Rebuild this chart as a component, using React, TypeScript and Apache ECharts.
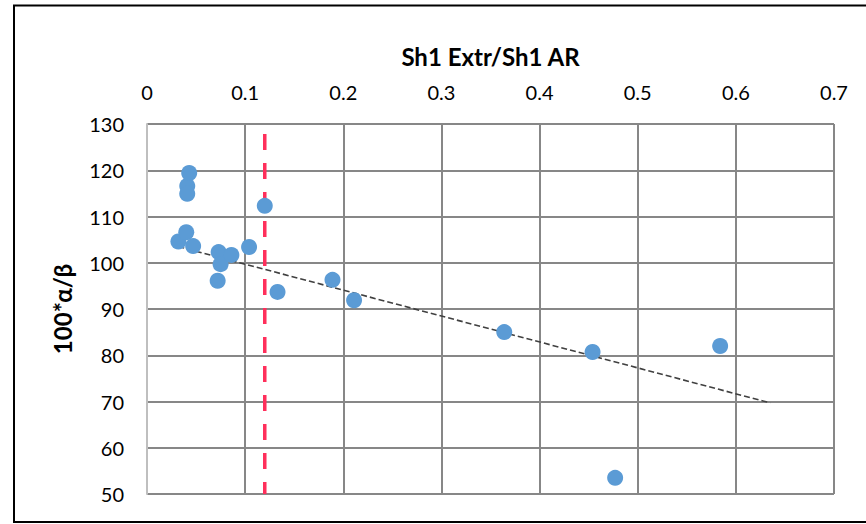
import React, { useEffect, useRef } from "react";
import * as echarts from "echarts";

const xValues = [0.032, 0.040, 0.041, 0.041, 0.043, 0.047, 0.073, 0.075, 0.072, 0.086, 0.104, 0.120, 0.133, 0.189, 0.211, 0.364, 0.454, 0.584, 0.477];
const yValues = [104.6, 106.6, 116.6, 114.9, 119.4, 103.6, 102.3, 99.7, 96.1, 101.7, 103.4, 112.3, 93.7, 96.3, 91.9, 85.0, 80.7, 82.0, 53.5];
const trendX = [0.032, 0.635];
const trendY = [103.5, 69.7];
const thresholdX = 0.12;
const yRange = [50, 130];
const xTitle = "Sh1 Extr/Sh1 AR";
const yTitle = "100*α/β";

const FONT = 'Lato, "DejaVu Sans", sans-serif';

export default function App() {
  const ref = useRef<HTMLDivElement>(null);
  useEffect(() => {
    document.body.style.margin = "0";
    const chart = echarts.init(ref.current!, null, { renderer: "svg" });
    chart.setOption({
      animation: false,
      backgroundColor: "#ffffff",
      graphic: [
        {
          type: "rect",
          shape: { x: 14, y: 5.5, width: 870, height: 516.5 },
          style: { fill: "none", stroke: "#000000", lineWidth: 2 },
          z: 100,
        },
      ],
      grid: { left: 147, top: 124, width: 687, height: 370 },
      xAxis: {
        type: "value",
        position: "top",
        min: 0,
        max: 0.7,
        interval: 0.1,
        name: xTitle,
        nameLocation: "middle",
        nameGap: 56,
        nameTextStyle: { fontFamily: FONT, fontSize: 24, fontWeight: "bold", color: "#000" },
        axisLine: { show: false },
        axisTick: { show: false },
        axisLabel: { fontFamily: FONT, fontSize: 20, color: "#000", margin: 22 },
        splitLine: { show: true, lineStyle: { color: "#878787", width: 2 } },
      },
      yAxis: {
        type: "value",
        min: yRange[0],
        max: yRange[1],
        interval: 10,
        name: yTitle,
        nameLocation: "middle",
        nameGap: 73,
        nameRotate: 90,
        nameTextStyle: { fontFamily: FONT, fontSize: 24, fontWeight: "bold", color: "#000" },
        axisLine: { show: true, lineStyle: { color: "#bfbfbf", width: 2 } },
        axisTick: { show: false },
        axisLabel: { fontFamily: FONT, fontSize: 20, color: "#000", margin: 23 },
        splitLine: { show: true, lineStyle: { color: "#878787", width: 2 } },
      },
      series: [
        {
          type: "line",
          data: trendX.map((x, i) => [x, trendY[i]]),
          symbol: "none",
          lineStyle: { color: "#404040", width: 1.6, type: [6, 3] },
          z: 3,
        },
        {
          type: "line",
          data: [[thresholdX, yRange[1]], [thresholdX, yRange[0]]],
          symbol: "none",
          lineStyle: { color: "#ff2f5b", width: 3.5, type: [16, 13], dashOffset: 19 },
          z: 2,
        },
        {
          type: "scatter",
          data: xValues.map((x, i) => [x, yValues[i]]),
          symbol: "circle",
          symbolSize: 16,
          itemStyle: { color: "#5b9bd5", opacity: 1 },
          z: 4,
        },
      ],
    });
    return () => chart.dispose();
  }, []);
  return <div ref={ref} style={{ width: 866, height: 524 }} />;
}
